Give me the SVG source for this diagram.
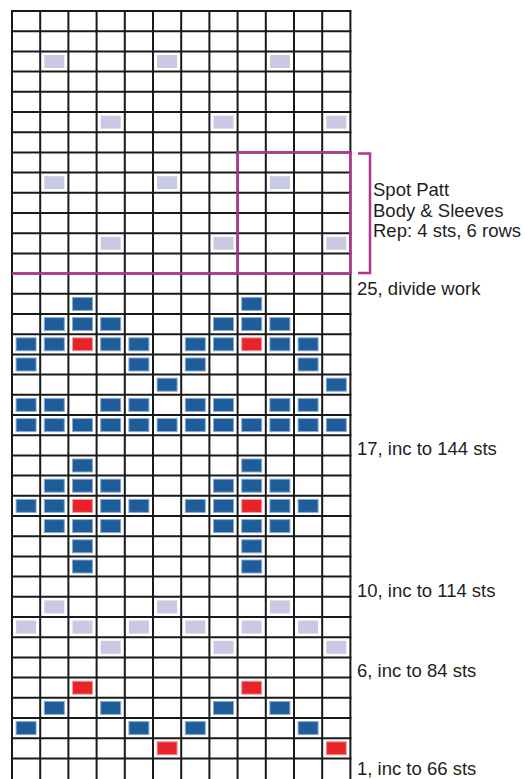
<svg xmlns="http://www.w3.org/2000/svg" width="525" height="779" viewBox="0 0 525 779">
<style>
.g{stroke:#1a1a1a;stroke-width:2;fill:none}
.b{fill:#1f5c9a;stroke:#86aad4;stroke-width:1}
.r{fill:#e8232a;stroke:#f29a9a;stroke-width:1}
.l{fill:#c9c9e4}
.p{stroke:#b03590;stroke-width:2.5;fill:none}
.t{font-family:"Liberation Sans",Arial,sans-serif;font-size:18.5px;fill:#1e1e1e}
</style>
<rect width="525" height="779" fill="#fff"/>
<g id="cells">
<rect class="l" x="44.3" y="55" width="20" height="13"/><rect class="l" x="157.1" y="55" width="20" height="13"/><rect class="l" x="269.9" y="55" width="20" height="13"/>
<rect class="l" x="100.7" y="115.6" width="20" height="13"/><rect class="l" x="213.5" y="115.6" width="20" height="13"/><rect class="l" x="326.3" y="115.6" width="20" height="13"/>
<rect class="l" x="44.3" y="176.2" width="20" height="13"/><rect class="l" x="157.1" y="176.2" width="20" height="13"/><rect class="l" x="269.9" y="176.2" width="20" height="13"/>
<rect class="l" x="100.7" y="236.8" width="20" height="13"/><rect class="l" x="213.5" y="236.8" width="20" height="13"/><rect class="l" x="326.3" y="236.8" width="20" height="13"/>
<rect class="b" x="72.5" y="297.4" width="20" height="13"/><rect class="b" x="241.7" y="297.4" width="20" height="13"/>
<rect class="b" x="44.3" y="317.6" width="20" height="13"/><rect class="b" x="72.5" y="317.6" width="20" height="13"/><rect class="b" x="100.7" y="317.6" width="20" height="13"/>
<rect class="b" x="213.5" y="317.6" width="20" height="13"/><rect class="b" x="241.7" y="317.6" width="20" height="13"/><rect class="b" x="269.9" y="317.6" width="20" height="13"/>
<rect class="b" x="16.1" y="337.8" width="20" height="13"/><rect class="b" x="44.3" y="337.8" width="20" height="13"/><rect class="r" x="72.5" y="337.8" width="20" height="13"/><rect class="b" x="100.7" y="337.8" width="20" height="13"/><rect class="b" x="128.9" y="337.8" width="20" height="13"/>
<rect class="b" x="185.3" y="337.8" width="20" height="13"/><rect class="b" x="213.5" y="337.8" width="20" height="13"/><rect class="r" x="241.7" y="337.8" width="20" height="13"/><rect class="b" x="269.9" y="337.8" width="20" height="13"/><rect class="b" x="298.1" y="337.8" width="20" height="13"/>
<rect class="b" x="16.1" y="358" width="20" height="13"/><rect class="b" x="128.9" y="358" width="20" height="13"/><rect class="b" x="185.3" y="358" width="20" height="13"/><rect class="b" x="298.1" y="358" width="20" height="13"/>
<rect class="b" x="157.1" y="378.2" width="20" height="13"/><rect class="b" x="326.3" y="378.2" width="20" height="13"/>
<rect class="b" x="16.1" y="398.4" width="20" height="13"/><rect class="b" x="44.3" y="398.4" width="20" height="13"/><rect class="b" x="100.7" y="398.4" width="20" height="13"/><rect class="b" x="128.9" y="398.4" width="20" height="13"/>
<rect class="b" x="185.3" y="398.4" width="20" height="13"/><rect class="b" x="213.5" y="398.4" width="20" height="13"/><rect class="b" x="269.9" y="398.4" width="20" height="13"/><rect class="b" x="298.1" y="398.4" width="20" height="13"/>
<rect class="b" x="16.1" y="418.6" width="20" height="13"/><rect class="b" x="44.3" y="418.6" width="20" height="13"/><rect class="b" x="72.5" y="418.6" width="20" height="13"/><rect class="b" x="100.7" y="418.6" width="20" height="13"/><rect class="b" x="128.9" y="418.6" width="20" height="13"/><rect class="b" x="157.1" y="418.6" width="20" height="13"/>
<rect class="b" x="185.3" y="418.6" width="20" height="13"/><rect class="b" x="213.5" y="418.6" width="20" height="13"/><rect class="b" x="241.7" y="418.6" width="20" height="13"/><rect class="b" x="269.9" y="418.6" width="20" height="13"/><rect class="b" x="298.1" y="418.6" width="20" height="13"/><rect class="b" x="326.3" y="418.6" width="20" height="13"/>
<rect class="b" x="72.5" y="459" width="20" height="13"/><rect class="b" x="241.7" y="459" width="20" height="13"/>
<rect class="b" x="44.3" y="479.2" width="20" height="13"/><rect class="b" x="72.5" y="479.2" width="20" height="13"/><rect class="b" x="100.7" y="479.2" width="20" height="13"/>
<rect class="b" x="213.5" y="479.2" width="20" height="13"/><rect class="b" x="241.7" y="479.2" width="20" height="13"/><rect class="b" x="269.9" y="479.2" width="20" height="13"/>
<rect class="b" x="16.1" y="499.4" width="20" height="13"/><rect class="b" x="44.3" y="499.4" width="20" height="13"/><rect class="r" x="72.5" y="499.4" width="20" height="13"/><rect class="b" x="100.7" y="499.4" width="20" height="13"/><rect class="b" x="128.9" y="499.4" width="20" height="13"/>
<rect class="b" x="185.3" y="499.4" width="20" height="13"/><rect class="b" x="213.5" y="499.4" width="20" height="13"/><rect class="r" x="241.7" y="499.4" width="20" height="13"/><rect class="b" x="269.9" y="499.4" width="20" height="13"/><rect class="b" x="298.1" y="499.4" width="20" height="13"/>
<rect class="b" x="44.3" y="519.6" width="20" height="13"/><rect class="b" x="72.5" y="519.6" width="20" height="13"/><rect class="b" x="100.7" y="519.6" width="20" height="13"/>
<rect class="b" x="213.5" y="519.6" width="20" height="13"/><rect class="b" x="241.7" y="519.6" width="20" height="13"/><rect class="b" x="269.9" y="519.6" width="20" height="13"/>
<rect class="b" x="72.5" y="539.8" width="20" height="13"/><rect class="b" x="241.7" y="539.8" width="20" height="13"/>
<rect class="b" x="72.5" y="560" width="20" height="13"/><rect class="b" x="241.7" y="560" width="20" height="13"/>
<rect class="l" x="44.3" y="600.4" width="20" height="13"/><rect class="l" x="157.1" y="600.4" width="20" height="13"/><rect class="l" x="269.9" y="600.4" width="20" height="13"/>
<rect class="l" x="16.1" y="620.6" width="20" height="13"/><rect class="l" x="72.5" y="620.6" width="20" height="13"/><rect class="l" x="128.9" y="620.6" width="20" height="13"/><rect class="l" x="185.3" y="620.6" width="20" height="13"/><rect class="l" x="241.7" y="620.6" width="20" height="13"/><rect class="l" x="298.1" y="620.6" width="20" height="13"/>
<rect class="l" x="100.7" y="640.8" width="20" height="13"/><rect class="l" x="213.5" y="640.8" width="20" height="13"/><rect class="l" x="326.3" y="640.8" width="20" height="13"/>
<rect class="r" x="72.5" y="681.2" width="20" height="13"/><rect class="r" x="241.7" y="681.2" width="20" height="13"/>
<rect class="b" x="44.3" y="701.4" width="20" height="13"/><rect class="b" x="100.7" y="701.4" width="20" height="13"/><rect class="b" x="213.5" y="701.4" width="20" height="13"/><rect class="b" x="269.9" y="701.4" width="20" height="13"/>
<rect class="b" x="16.1" y="721.6" width="20" height="13"/><rect class="b" x="128.9" y="721.6" width="20" height="13"/><rect class="b" x="185.3" y="721.6" width="20" height="13"/><rect class="b" x="298.1" y="721.6" width="20" height="13"/>
<rect class="r" x="157.1" y="741.8" width="20" height="13"/><rect class="r" x="326.3" y="741.8" width="20" height="13"/>
</g>
<g id="grid">
<path class="g" d="M12,11V779M40.2,11V779M68.4,11V779M96.6,11V779M124.8,11V779M153,11V779M181.2,11V779M209.4,11V779M237.6,11V779M265.8,11V779M294,11V779M322.2,11V779M350.4,11V779"/>
<path class="g" d="M11,11H351.4M11,31.2H351.4M11,51.4H351.4M11,71.6H351.4M11,91.8H351.4M11,112H351.4M11,132.2H351.4M11,152.4H351.4M11,172.6H351.4M11,192.8H351.4M11,213H351.4M11,233.2H351.4M11,253.4H351.4M11,273.6H351.4M11,293.8H351.4M11,314H351.4M11,334.2H351.4M11,354.4H351.4M11,374.6H351.4M11,394.8H351.4M11,415H351.4M11,435.2H351.4M11,455.4H351.4M11,475.6H351.4M11,495.8H351.4M11,516H351.4M11,536.2H351.4M11,556.4H351.4M11,576.6H351.4M11,596.8H351.4M11,617H351.4M11,637.2H351.4M11,657.4H351.4M11,677.6H351.4M11,697.8H351.4M11,718H351.4M11,738.2H351.4M11,758.4H351.4"/>
</g>
<g id="repeat">
<path class="p" d="M12,273.6H237.6"/>
<rect class="p" x="237.6" y="152.4" width="112.8" height="121.2"/>
<path class="p" d="M358,153.4H370V273H358" stroke-width="2"/>
</g>
<g id="labels">
<text class="t" x="373" y="196">Spot Patt</text>
<text class="t" x="373" y="216.5">Body &amp; Sleeves</text>
<text class="t" x="373" y="237">Rep: 4 sts, 6 rows</text>
<text class="t" x="357" y="295">25, divide work</text>
<text class="t" x="357" y="455">17, inc to 144 sts</text>
<text class="t" x="357" y="596.5">10, inc to 114 sts</text>
<text class="t" x="357" y="677">6, inc to 84 sts</text>
<text class="t" x="357" y="775">1, inc to 66 sts</text>
</g>
</svg>
